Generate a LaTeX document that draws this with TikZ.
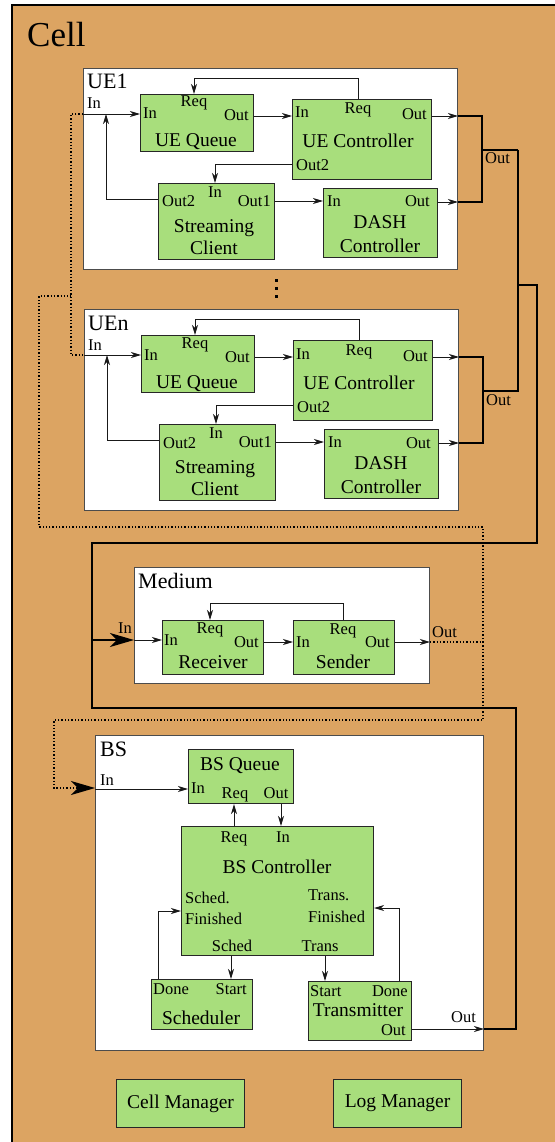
\documentclass[tikz,border=0pt]{standalone}
\usepackage{fontspec}
\setmainfont{Liberation Serif}
\usetikzlibrary{arrows.meta}
\definecolor{cellbg}{RGB}{220,164,98}
\definecolor{blkgreen}{RGB}{168,222,124}
\tikzset{
  sz/.style 2 args={minimum width=#1pt,minimum height=#2pt},
  blk/.style={draw=black!85,fill=blkgreen,line width=1.1pt,inner sep=0pt,anchor=north west},
  grp/.style={draw=black!70,fill=white,line width=1pt,inner sep=0pt,anchor=north west},
  port/.style={font=\fontsize{16.5}{18}\selectfont,inner sep=0pt},
  ttl/.style={font=\fontsize{19.5}{21}\selectfont,inner sep=0pt},
  gttl/.style={font=\fontsize{22}{24}\selectfont,inner sep=0pt,anchor=base west},
  wire/.style={draw=black!90,line width=0.9pt,-{Stealth[length=10pt,width=6pt,inset=3pt]}},
  bus/.style={draw=black,line width=1.5pt},
  dots/.style={draw=black,line width=1.3pt,dotted},
  bigtip/.style={-{Stealth[length=24pt,width=14pt,inset=7pt]}},
}
\begin{document}
\begin{tikzpicture}[x=1pt,y=-1pt]
  \useasboundingbox (0,0) rectangle (554,1142);
  \filldraw[fill=cellbg,draw=black,line width=1.6pt] (12,5) rectangle (570,1160);
  \node[anchor=base west,font=\fontsize{35}{40}\selectfont,inner sep=0pt] (cell-t) at (27,47) {Cell};
  % the two UEs
  \foreach \uename/\dx/\dy/\s in {UE1/0/0/1,UEn/1/241/n}{
  \begin{scope}[shift={(\dx,\dy)}]
    \node[grp,sz={374}{201}] (ue\s) at (83,68) {};
    \node[gttl] (ue\s-t) at (87,89) {\uename};
    \node[port,anchor=base west] (ue\s-in) at (87,109) {In};
    \node[blk,sz={113}{57}] (q\s) at (140,94) {};
    \node[port,anchor=base west] (q\s-i) at (143,119) {In};
    \node[port,anchor=base] (q\s-r) at (194,107) {Req};
    \node[port,anchor=base east] (q\s-o) at (249,121) {Out};
    \node[ttl,anchor=base] (q\s-t) at (196,147) {UE Queue};
    \node[blk,sz={139}{80}] (c\s) at (292,99) {};
    \node[port,anchor=base west] (c\s-i) at (295,118) {In};
    \node[port,anchor=base] (c\s-r) at (358,114) {Req};
    \node[port,anchor=base east] (c\s-o) at (427,120) {Out};
    \node[ttl,anchor=base] (c\s-t) at (358,148) {UE Controller};
    \node[port,anchor=base west] (c\s-o2) at (296,171) {Out2};
    \node[blk,sz={116}{76}] (sc\s) at (158,183) {};
    \node[port,anchor=base west] (sc\s-o2) at (162,207) {Out2};
    \node[port,anchor=base] (sc\s-i) at (215,197) {In};
    \node[port,anchor=base east] (sc\s-o1) at (271,206) {Out1};
    \node[ttl,anchor=base] (sc\s-t1) at (214,232) {Streaming};
    \node[ttl,anchor=base] (sc\s-t2) at (214,254) {Client};
    \node[blk,sz={114}{69}] (d\s) at (323,188) {};
    \node[port,anchor=base west] (d\s-i) at (327,206) {In};
    \node[port,anchor=base east] (d\s-o) at (430,207) {Out};
    \node[ttl,anchor=base] (d\s-t1) at (380,228) {DASH};
    \node[ttl,anchor=base] (d\s-t2) at (380,252) {Controller};
    \draw[wire] (ue\s.west |- 0,114) -- (q\s.west |- 0,114);
    \draw[wire] (c\s-r |- c\s.north) |- (q\s-r |- 0,78) -- (q\s-r |- q\s.north);
    \draw[wire] (q\s.east |- 0,116) -- (c\s.west |- 0,116);
    \draw[wire] (c\s.west |- 0,164) -| (sc\s-i |- sc\s.north);
    \draw[wire] (sc\s.west |- 0,199) -| (106,114);
    \draw[wire] (sc\s.east |- 0,201) -- (d\s.west |- 0,201);
    \draw[wire] (c\s.east |- 0,116) -- (ue\s.east |- 0,116);
    \draw[wire] (d\s.east |- 0,202) -- (ue\s.east |- 0,202);
    \draw[bus] (ue\s.east |- 0,116) -| (482,202) -- (ue\s.east |- 0,202);
    \draw[bus] (482,150) -- (518,150);
    \node[port,anchor=base west] (ue\s-out) at (485,164) {Out};
  \end{scope}
  }
  \fill (275,279) rectangle ++(3,3);
  \fill (275,287) rectangle ++(3,3);
  \fill (275,295) rectangle ++(3,3);
  % medium
  \node[grp,sz={295}{116}] (med) at (134,567) {};
  \node[gttl] (med-t) at (138,588) {Medium};
  \node[blk,sz={101}{54}] (rcv) at (162,620) {};
  \node[port,anchor=base west] (rcv-i) at (164,645) {In};
  \node[port,anchor=base] (rcv-r) at (210,633) {Req};
  \node[port,anchor=base east] (rcv-o) at (259,647) {Out};
  \node[ttl,anchor=base] (rcv-t) at (213,668) {Receiver};
  \node[blk,sz={101}{54}] (snd) at (293,620) {};
  \node[port,anchor=base west] (snd-i) at (296,647) {In};
  \node[port,anchor=base] (snd-r) at (343,634) {Req};
  \node[port,anchor=base east] (snd-o) at (390,647) {Out};
  \node[ttl,anchor=base] (snd-t) at (343,668) {Sender};
  \node[port,anchor=base west] (med-in) at (118,633) {In};
  \node[port,anchor=base west] (med-out) at (432,637) {Out};
  \draw[wire] (snd-r |- snd.north) |- (rcv-r |- 0,603) -- (rcv-r |- rcv.north);
  \draw[wire] (rcv.east |- 0,642) -- (snd.west |- 0,642);
  \draw[wire] (snd.east |- 0,642) -- (med.east |- 0,642);
  \draw[bus,bigtip] (92,640) -- (med.west |- 0,640);
  \draw[wire] (med.west |- 0,640) -- (rcv.west |- 0,640);
  % BS
  \node[grp,sz={388}{315}] (bs) at (95,735) {};
  \node[gttl] (bs-t) at (100,756) {BS};
  \node[port,anchor=base west] (bs-in) at (100,785) {In};
  \node[blk,sz={105}{54}] (bsq) at (188,749) {};
  \node[ttl,anchor=base] (bsq-t) at (240,770) {BS Queue};
  \node[port,anchor=base west] (bsq-i) at (191,793) {In};
  \node[port,anchor=base] (bsq-r) at (235,798) {Req};
  \node[port,anchor=base] (bsq-o) at (276,798) {Out};
  \node[blk,sz={192}{129}] (bsc) at (181,826) {};
  \node[port,anchor=base] (bsc-r) at (234,842) {Req};
  \node[port,anchor=base] (bsc-i) at (283,842) {In};
  \node[ttl,anchor=base] (bsc-t) at (277,873) {BS Controller};
  \node[port,anchor=base west] (bsc-sf1) at (185,903) {Sched.};
  \node[port,anchor=base west] (bsc-sf2) at (185,924) {Finished};
  \node[port,anchor=base west] (bsc-tf1) at (308,900) {Trans.};
  \node[port,anchor=base west] (bsc-tf2) at (308,922) {Finished};
  \node[port,anchor=base] (bsc-s) at (232,951) {Sched};
  \node[port,anchor=base] (bsc-tr) at (320,951) {Trans};
  \node[blk,sz={101}{50}] (sch) at (151,979) {};
  \node[port,anchor=base west] (sch-d) at (153,994) {Done};
  \node[port,anchor=base east] (sch-s) at (247,994) {Start};
  \node[ttl,anchor=base] (sch-t) at (201,1024) {Scheduler};
  \node[blk,sz={103}{59}] (tx) at (308,981) {};
  \node[port,anchor=base west] (tx-s) at (310,996) {Start};
  \node[port,anchor=base east] (tx-d) at (408,996) {Done};
  \node[ttl,anchor=base] (tx-t) at (358,1016) {Transmitter};
  \node[port,anchor=base east] (tx-o) at (406,1035) {Out};
  \node[port,anchor=base west] (bs-out) at (451,1022) {Out};
  \draw[wire] (bs.west |- 0,789) -- (bsq.west |- 0,789);
  \draw[wire] (bsc-r |- bsc.north) -- (bsc-r |- bsq.south);
  \draw[wire] (bsq.south -| 281,0) -- (bsc.north -| 281,0);
  \draw[wire] (sch.north -| 158,0) |- (bsc.west |- 0,911);
  \draw[wire] (bsc.south -| 231,0) -- (sch.north -| 231,0);
  \draw[wire] (bsc.south -| 325,0) -- (tx.north -| 325,0);
  \draw[wire] (tx.north -| 399,0) |- (bsc.east |- 0,908);
  \draw[wire] (tx.east |- 0,1029) -- (bs.east |- 0,1029);
  % links through the cell
  \draw[bus] (518,150) -- (518,391);
  \draw[bus] (518,285) -| (537,543) -| (92,708) -| (516,1029) -- (bs.east |- 0,1029);
  \draw[dots] (med.east |- 0,642) -- (483,642) -- (483,527) -| (39,296) -- (71,296);
  \draw[dots] (ue1.west |- 0,114) -| (71,355) -- (uen.west |- 0,355);
  \draw[dots,bigtip] (483,642) -- (483,720) -| (54,788) -- (bs.west |- 0,788);
  % managers
  \node[blk,ttl,sz={128}{48}] (cm) at (116,1079) {Cell Manager};
  \node[blk,ttl,sz={128}{48}] (lm) at (333,1079) {Log Manager};
\end{tikzpicture}
\end{document}
